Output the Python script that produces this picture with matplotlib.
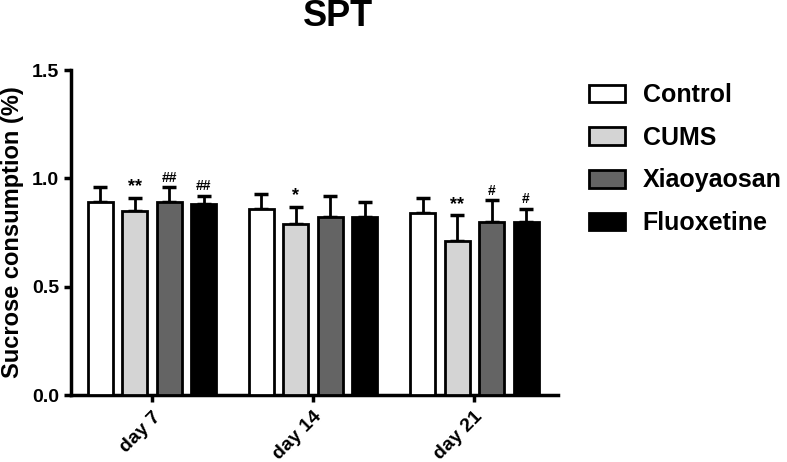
import numpy as np
import matplotlib.pyplot as plt
import matplotlib.transforms as mtransforms
from matplotlib.patches import Patch

plt.rcParams['font.family'] = ['Liberation Sans', 'DejaVu Sans']
plt.rcParams['font.weight'] = 'bold'

# data
days = ["day 7", "day 14", "day 21"]
groups = ["Control", "CUMS", "Xiaoyaosan", "Fluoxetine"]
control = [0.89, 0.86, 0.84]
cums = [0.85, 0.79, 0.71]
xiaoyaosan = [0.89, 0.82, 0.80]
fluoxetine = [0.88, 0.82, 0.80]
control_sd = [0.07, 0.07, 0.07]
cums_sd = [0.06, 0.08, 0.12]
xiaoyaosan_sd = [0.07, 0.10, 0.10]
fluoxetine_sd = [0.04, 0.07, 0.06]
marks_cums = ["**", "*", "**"]
marks_xiao = ["##", "", "#"]
marks_fluox = ["##", "", "#"]

colors = ["white", "#d4d4d4", "#646464", "black"]
means = [control, cums, xiaoyaosan, fluoxetine]
sds = [control_sd, cums_sd, xiaoyaosan_sd, fluoxetine_sd]
marks = [["", "", ""], marks_cums, marks_xiao, marks_fluox]

fig = plt.figure(figsize=(7.87, 4.62), dpi=100)
ax = fig.add_axes([0.0902, 0.145, 0.619, 0.703])

x = np.arange(len(days))
pitch = 0.214
width = 0.155
for i in range(4):
    pos = x + (i - 1.5) * pitch
    ax.bar(pos, means[i], width, color=colors[i], edgecolor="black", linewidth=2, zorder=3)
    ax.errorbar(pos, means[i], yerr=[np.zeros(3), sds[i]], fmt="none", ecolor="black",
                elinewidth=2, capsize=5, capthick=2.5, zorder=2)
    for j in range(3):
        if marks[i][j]:
            fs = 13 if "*" in marks[i][j] else 10
            ax.text(pos[j], means[i][j] + sds[i][j] + 0.012, marks[i][j], ha="center",
                    va="bottom", fontsize=fs, fontweight="bold")

ax.set_xlim(-0.503, 2.52)
ax.set_ylim(0, 1.5)
ax.set_yticks([0, 0.5, 1.0, 1.5])
ax.set_yticklabels(["0.0", "0.5", "1.0", "1.5"])
ax.set_xticks(x)
ax.set_xticklabels(days, rotation=45, ha="right", va="center", rotation_mode="anchor")
ax.tick_params(axis="both", labelsize=14, width=2.5, length=5, direction="out")
ax.tick_params(axis="x", pad=9)
shift = mtransforms.ScaledTranslation(6 / 100, 0, fig.dpi_scale_trans)
for lab in ax.get_xticklabels():
    lab.set_transform(lab.get_transform() + shift)
for s in ["top", "right"]:
    ax.spines[s].set_visible(False)
for s in ["left", "bottom"]:
    ax.spines[s].set_linewidth(2.5)
ax.set_ylabel("Sucrose consumption (%)", fontsize=17, fontweight="bold", labelpad=6)

fig.text(338 / 787, 1 - 16 / 462, "SPT", ha="center", va="center", fontsize=26, fontweight="bold")

handles = [Patch(facecolor=c, edgecolor="black", linewidth=2) for c in colors]
fig.legend(handles, groups, loc="upper left", bbox_to_anchor=(579 / 787, 1 - 73 / 462),
           frameon=False, fontsize=18, handlelength=1.45, handleheight=0.7,
           labelspacing=0.75, handletextpad=0.7, borderaxespad=0)

fig.savefig("out.png", dpi=100)
